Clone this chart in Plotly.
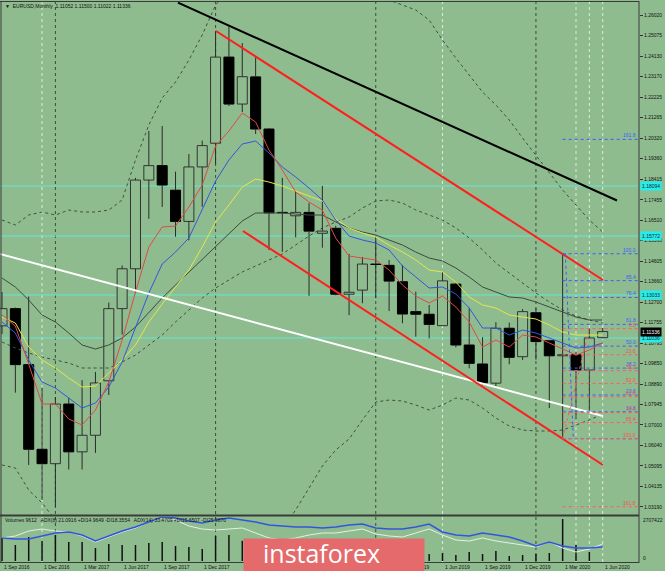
import plotly.graph_objects as go

W, H = 665, 571
BG = "rgb(143,188,143)"

# ---------------- data ----------------
months = ["Sep 2016", "Oct 2016", "Nov 2016", "Dec 2016", "Jan 2017", "Feb 2017", "Mar 2017", "Apr 2017",
          "May 2017", "Jun 2017", "Jul 2017", "Aug 2017", "Sep 2017", "Oct 2017", "Nov 2017", "Dec 2017",
          "Jan 2018", "Feb 2018", "Mar 2018", "Apr 2018", "May 2018", "Jun 2018", "Jul 2018", "Aug 2018",
          "Sep 2018", "Oct 2018", "Nov 2018", "Dec 2018", "Jan 2019", "Feb 2019", "Mar 2019", "Apr 2019",
          "May 2019", "Jun 2019", "Jul 2019", "Aug 2019", "Sep 2019", "Oct 2019", "Nov 2019", "Dec 2019",
          "Jan 2020", "Feb 2020", "Mar 2020", "Apr 2020", "May 2020", "Jun 2020"]

opens = [1.1160, 1.1240, 1.0980, 1.0587, 1.0520, 1.0797, 1.0575, 1.0652, 1.0905, 1.1240, 1.1425, 1.1837,
         1.1904, 1.1790, 1.1645, 1.1898, 1.2008, 1.2408, 1.2190, 1.2316, 1.2074, 1.1687, 1.1671, 1.1687,
         1.1590, 1.1613, 1.1307, 1.1326, 1.1447, 1.1441, 1.1365, 1.1226, 1.1214, 1.1161, 1.1354, 1.1071,
         1.0983, 1.0894, 1.1149, 1.1017, 1.1221, 1.1091, 1.1021, 1.1026, 1.0955, 1.11052]
highs = [1.1317, 1.1245, 1.1296, 1.0873, 1.0829, 1.0826, 1.0908, 1.0946, 1.1268, 1.1440, 1.1847, 1.2065,
         1.2088, 1.1876, 1.1958, 1.2020, 1.2530, 1.2549, 1.2473, 1.2410, 1.2079, 1.1847, 1.1783, 1.1730,
         1.1810, 1.1625, 1.1494, 1.1480, 1.1570, 1.1466, 1.1443, 1.1319, 1.1257, 1.1411, 1.1360, 1.1244,
         1.1107, 1.1177, 1.1175, 1.1238, 1.1241, 1.1095, 1.1495, 1.1040, 1.1147, 1.11500]
lows = [1.1122, 1.0850, 1.0514, 1.0352, 1.0320, 1.0493, 1.0493, 1.0570, 1.0839, 1.1120, 1.1312, 1.1657,
        1.1712, 1.1574, 1.1557, 1.1713, 1.1912, 1.2181, 1.2153, 1.2051, 1.1512, 1.1504, 1.1571, 1.1300,
        1.1523, 1.1302, 1.1210, 1.1265, 1.1289, 1.1229, 1.1172, 1.1110, 1.1102, 1.1160, 1.1060, 1.0963,
        1.0885, 1.0878, 1.0982, 1.1002, 1.1003, 1.0778, 1.0636, 1.0727, 1.0766, 1.11022]
closes = [1.1240, 1.0980, 1.0587, 1.0520, 1.0797, 1.0575, 1.0652, 1.0895, 1.1240, 1.1425, 1.1837, 1.1904,
          1.1814, 1.1645, 1.1898, 1.1997, 1.2408, 1.2190, 1.2317, 1.2074, 1.1685, 1.1685, 1.1687, 1.1600,
          1.1600, 1.1307, 1.1316, 1.1447, 1.1445, 1.1368, 1.1215, 1.1214, 1.1167, 1.1369, 1.1071, 1.0986,
          1.0896, 1.1149, 1.1014, 1.1226, 1.1087, 1.1021, 1.1026, 1.0955, 1.1104, 1.11336]

volumes = [1482000, 1031000, 1547000, 1289000, 1676000, 1225000, 1225000, 838000, 1096000, 1031000,
           1031000, 1160000, 1225000, 967000, 902000, 774000, 1612000, 1676000, 1300000, 1100000,
           1250000, 900000, 800000, 900000, 750000, 850000, 700000, 650000, 700000, 550000, 600000,
           500000, 451000, 516000, 387000, 580000, 451000, 645000, 322000, 387000, 451000, 516000,
           2707422, 1031000, 580000, 9612]

ma_red = [1.12104, 1.11593, 1.09829, 1.07972, 1.07972, 1.07275, 1.06996, 1.07693, 1.08993, 1.10943,
          1.13172, 1.15261, 1.16190, 1.16236, 1.17119, 1.18140, 1.19951, 1.20647, 1.21483, 1.21065,
          1.19765, 1.18837, 1.17815, 1.17351, 1.16979, 1.15679, 1.14843, 1.14751, 1.14658, 1.14193,
          1.13497, 1.12986, 1.12661, 1.12986, 1.12475, 1.11779, 1.10618, 1.10943, 1.10618, 1.11175,
          1.11082, 1.10804, 1.10525, 1.10247, 1.10479, 1.10804]
ma_blue = [1.11779, 1.11268, 1.10015, 1.08993, 1.08714, 1.08250, 1.07786, 1.08018, 1.08761, 1.09922,
           1.11547, 1.13125, 1.14472, 1.15029, 1.15679, 1.17026, 1.18326, 1.19301, 1.20044, 1.20183,
           1.19626, 1.18976, 1.18512, 1.18001, 1.17444, 1.16515, 1.15772, 1.15586, 1.15447, 1.15122,
           1.14379, 1.13868, 1.13358, 1.13404, 1.13079, 1.12429, 1.11500, 1.11500, 1.11175, 1.11407,
           1.11268, 1.11036, 1.10804, 1.10572, 1.10618, 1.10804]
ma_yellow = [1.12011, 1.11733, 1.10618, 1.10015, 1.09643, 1.09179, 1.08761, 1.08807, 1.09411, 1.10015,
             1.10711, 1.11779, 1.12615, 1.13404, 1.14193, 1.15261, 1.16422, 1.17211, 1.18047, 1.18419,
             1.18279, 1.18094, 1.17862, 1.17629, 1.17397, 1.16561, 1.16144, 1.15911, 1.15726, 1.15354,
             1.15029, 1.14658, 1.14193, 1.14101, 1.13636, 1.12940, 1.12568, 1.12429, 1.12104, 1.12011,
             1.11918, 1.11640, 1.11315, 1.11175, 1.11175, 1.11175]
ma_gray = [1.13822, 1.13404, 1.12800, 1.12104, 1.11779, 1.11268, 1.10711, 1.10525, 1.10711, 1.11036,
           1.11547, 1.12243, 1.12893, 1.13497, 1.14101, 1.14658, 1.15261, 1.15865, 1.16469, 1.16840,
           1.16840, 1.16840, 1.16794, 1.16747, 1.16747, 1.16422, 1.16144, 1.15958, 1.15819, 1.15586,
           1.15354, 1.15029, 1.14751, 1.14611, 1.14286, 1.13868, 1.13404, 1.13172, 1.12940, 1.12893,
           1.12708, 1.12475, 1.12243, 1.12011, 1.11872, 1.11872]
bb_mid = [1.10850, 1.10572, 1.10340, 1.10154, 1.10015, 1.09875, 1.09643, 1.09643, 1.09643, 1.09922,
          1.10247, 1.10711, 1.11175, 1.11779, 1.12336, 1.12893, 1.13358, 1.13729, 1.14101, 1.14379,
          1.14658, 1.14936, 1.15354, 1.15772, 1.16144, 1.16422, 1.16654, 1.17072, 1.17397, 1.17444,
          1.17304, 1.16979, 1.16747, 1.16515, 1.16144, 1.15679, 1.15122, 1.14518, 1.14054, 1.13590,
          1.13125, 1.12708, 1.12336, 1.12058, 1.11872, 1.11733]
bb_up = [1.16515, 1.16283, 1.16747, 1.16886, 1.16747, 1.16979, 1.16886, 1.16886, 1.16979, 1.17444,
         1.19301, 1.20926, 1.22180, 1.22923, 1.23944, 1.25105, 1.26498, 1.27194, 1.27659, 1.27891,
         1.27891, 1.27891, 1.27659, 1.27426, 1.27194, 1.26962, 1.26962, 1.26730, 1.26730, 1.26730,
         1.26498, 1.26266, 1.25801, 1.24873, 1.24037, 1.23248, 1.22458, 1.21855, 1.21158, 1.20322,
         1.19533, 1.18744, 1.17908, 1.17211, 1.16515, 1.15958]
bb_low = [1.05139, 1.05000, 1.03978, 1.03375, 1.02585, 1.02121, 1.01657, 1.01425, 1.01425, 1.01657,
          1.01425, 1.01192, 1.00960, 1.00821, 1.00728, 1.00496, 1.00217, 1.00357, 1.00542, 1.00960,
          1.01425, 1.02214, 1.03050, 1.04071, 1.05093, 1.05836, 1.06346, 1.07229, 1.08064, 1.08157,
          1.08111, 1.07925, 1.07693, 1.07925, 1.08250, 1.08157, 1.07786, 1.07321, 1.06950, 1.06764,
          1.06718, 1.06718, 1.06764, 1.06996, 1.07229, 1.07507]

adx_blue = [48, 46, 46, 52, 58, 60, 54, 42, 52, 62, 70, 80, 90, 88, 82, 78, 84, 88, 84, 80,
            74, 72, 70, 70, 68, 70, 74, 76, 68, 66, 66, 70, 76, 60, 54, 52, 58, 54, 50, 42,
            32, 40, 32, 28, 28, 30]
adx_white = [48, 52, 62, 66, 62, 60, 52, 40, 50, 60, 68, 80, 88, 84, 72, 66, 64, 66, 68, 58,
             48, 44, 48, 54, 58, 58, 62, 66, 56, 52, 50, 58, 66, 54, 44, 42, 48, 42, 38, 34,
             30, 40, 28, 20, 26, 36]

price_ticks = [1.26020, 1.25075, 1.24130, 1.23170, 1.22225, 1.21265, 1.20320, 1.19360, 1.18415,
               1.17455, 1.16510, 1.15560, 1.14605, 1.13660, 1.12700, 1.11755, 1.10795, 1.09850,
               1.08890, 1.07945, 1.07000, 1.06040, 1.05095, 1.04135, 1.03190]

# trend lines: (bar index, price) pairs
black_line = ([13.18, 46.07], [1.26609, 1.17420])
red_upper = ([16.03, 45.02], [1.25291, 1.13729])
red_lower = ([18.05, 45.02], [1.16004, 1.05139])
white_line = ([-0.15, 45.02], [1.14936, 1.07414])

cyan_levels = [1.18094, 1.15772, 1.13033, 1.11036]

fib_blue_labels = ["0.0", "14.6", "23.6", "38.2", "50.0", "61.8", "76.4", "85.4", "100.0", "161.8"]
fib_blue_prices = [1.0636, 1.0761, 1.0839, 1.0964, 1.1066, 1.1167, 1.1292, 1.1370, 1.1495, 1.2026]
fib_red_labels = ["0.0", "23.6", "38.2", "50.0", "61.8", "76.4", "85.4", "100.0", "161.8"]
fib_red_prices = [1.1147, 1.1026, 1.0952, 1.0892, 1.0831, 1.0757, 1.0711, 1.0636, 1.0320]

dark_separators = [4, 16, 28, 40]
light_separators = [3, 33, 43, 44, 45]
logo_text = "instaforex"

# ---------------- layout helpers ----------------
X0, X1 = -0.15, 47.72
YTOP, YBOT = 1.26638, 1.02818
def fy(py):
    return 1 - py / H

PLOT_R = 639 / W
FONT = "Liberation Sans"

fig = go.Figure()
n = len(opens)
idx = list(range(n))

# BB dotted
for arr in (bb_up, bb_mid, bb_low):
    fig.add_trace(go.Scatter(x=idx, y=arr, mode="lines", line=dict(color="#3f4f3f", width=1, dash="dot"),
                             hoverinfo="skip"))

# candles: wicks
wx, wy = [], []
for i in idx:
    top = max(opens[i], closes[i]); bot = min(opens[i], closes[i])
    wx += [i, i, None, i, i, None]
    wy += [highs[i], top, None, bot, lows[i], None]
fig.add_trace(go.Scatter(x=wx, y=wy, mode="lines", line=dict(color="#2a2a2a", width=1), hoverinfo="skip"))

bases = [min(o, c) for o, c in zip(opens, closes)]
heights = [max(abs(c - o), 0.00008) for o, c in zip(opens, closes)]
fills = [BG if c > o else "#000000" for o, c in zip(opens, closes)]
lines_c = ["#333333" if c > o else "#000000" for o, c in zip(opens, closes)]
fig.add_trace(go.Bar(x=idx, y=heights, base=bases, width=0.75,
                     marker=dict(color=fills, line=dict(color=lines_c, width=1)), hoverinfo="skip"))

# MAs
fig.add_trace(go.Scatter(x=idx, y=ma_gray, mode="lines", line=dict(color="#3c4a3c", width=1)))
fig.add_trace(go.Scatter(x=idx, y=ma_yellow, mode="lines", line=dict(color="#e6e64a", width=1)))
fig.add_trace(go.Scatter(x=idx, y=ma_blue, mode="lines", line=dict(color="#3355dd", width=1)))
fig.add_trace(go.Scatter(x=idx, y=ma_red, mode="lines", line=dict(color="#e04848", width=1)))

# trend lines
fig.add_trace(go.Scatter(x=white_line[0], y=white_line[1], mode="lines", line=dict(color="#ffffff", width=2)))
fig.add_trace(go.Scatter(x=red_upper[0], y=red_upper[1], mode="lines", line=dict(color="#ff1e1e", width=2)))
fig.add_trace(go.Scatter(x=red_lower[0], y=red_lower[1], mode="lines", line=dict(color="#ff1e1e", width=2)))
fig.add_trace(go.Scatter(x=black_line[0], y=black_line[1], mode="lines", line=dict(color="#000000", width=2)))

# fib levels
for p in fib_blue_prices:
    fig.add_trace(go.Scatter(x=[42, X1], y=[p, p], mode="lines", line=dict(color="#3a5cff", width=1, dash="dot")))
for p in fib_red_prices:
    fig.add_trace(go.Scatter(x=[42, X1], y=[p, p], mode="lines", line=dict(color="#ff5a5a", width=1, dash="dot")))
fig.add_trace(go.Scatter(x=[42, 44], y=[fib_red_prices[-2], fib_red_prices[0]], mode="lines",
                         line=dict(color="#ff5a5a", width=1, dash="dot")))
fig.add_trace(go.Scatter(x=[42.2, 42.8], y=[fib_blue_prices[-2], fib_blue_prices[0]], mode="lines",
                         line=dict(color="#3a5cff", width=1, dash="dot")))

# volume panel
vx, vy = [], []
for i in idx:
    vx += [i, i, None]; vy += [0, volumes[i], None]
fig.add_trace(go.Scatter(x=vx, y=vy, mode="lines", line=dict(color="#111111", width=1.5), xaxis="x2", yaxis="y2"))
fig.add_trace(go.Scatter(x=idx, y=adx_white, mode="lines", line=dict(color="#e4f0e4", width=1), xaxis="x2", yaxis="y3"))
fig.add_trace(go.Scatter(x=idx, y=adx_blue, mode="lines", line=dict(color="#3355dd", width=1.5), xaxis="x2", yaxis="y3"))

shapes = []
for s in dark_separators:
    shapes.append(dict(type="line", xref="x", yref="paper", x0=s, x1=s, y0=fy(562), y1=fy(2),
                       line=dict(color="#3c4c3c", width=1, dash="dot"), layer="below"))
for s in light_separators:
    shapes.append(dict(type="line", xref="x", yref="paper", x0=s, x1=s, y0=fy(562), y1=fy(2),
                       line=dict(color="#dfeadf", width=1, dash="dot"), layer="below"))
for p in cyan_levels:
    shapes.append(dict(type="line", xref="paper", yref="y", x0=0, x1=PLOT_R, y0=p, y1=p,
                       line=dict(color="#66e6d2", width=1), layer="below"))
fc = "#3a3a3a"
shapes += [
    dict(type="line", xref="paper", yref="paper", x0=PLOT_R, x1=PLOT_R, y0=fy(563), y1=fy(1), line=dict(color=fc, width=1)),
    dict(type="line", xref="paper", yref="paper", x0=0, x1=PLOT_R, y0=fy(515.5), y1=fy(515.5), line=dict(color=fc, width=2)),
    dict(type="line", xref="paper", yref="paper", x0=0, x1=PLOT_R, y0=fy(1.5), y1=fy(1.5), line=dict(color=fc, width=1)),
    dict(type="line", xref="paper", yref="paper", x0=1 / W, x1=1 / W, y0=fy(563), y1=fy(1), line=dict(color=fc, width=1)),
    dict(type="line", xref="paper", yref="paper", x0=0, x1=PLOT_R, y0=fy(562.5), y1=fy(562.5), line=dict(color=fc, width=1)),
]

ann = []
ann.append(dict(text="▼  EURUSD,Monthly  1.11052 1.11500 1.11022 1.11336", x=3 / W, y=fy(6), xref="paper", yref="paper",
                xanchor="left", yanchor="middle", showarrow=False, font=dict(size=5, color="#111111", family=FONT)))
ann.append(dict(text="Volumes 9612   ADX(8) 21.0916 +DI14.9649 -DI18.3554   ADX(14) 33.4709 +DI15.6507 -DI25.9870",
                x=3 / W, y=fy(520), xref="paper", yref="paper", xanchor="left", yanchor="middle", showarrow=False,
                font=dict(size=5, color="#111111", family=FONT)))
ann.append(dict(text="2707422", x=641 / W, y=fy(520), xref="paper", yref="paper", xanchor="left", yanchor="middle",
                showarrow=False, font=dict(size=5, color="#111111", family=FONT)))
ann.append(dict(text="0", x=641 / W, y=fy(558), xref="paper", yref="paper", xanchor="left", yanchor="middle",
                showarrow=False, font=dict(size=5, color="#111111", family=FONT)))
for i in range(0, n, 3):
    if 18 <= i <= 27:
        continue  # hidden under the logo in the reference
    ann.append(dict(text="1 " + months[i], x=i, y=fy(566.5), xref="x", yref="paper", xanchor="left", yanchor="middle",
                    showarrow=False, font=dict(size=5, color="#111111", family=FONT)))
for lab, p in zip(fib_blue_labels, fib_blue_prices):
    if lab == "0.0":
        continue
    ann.append(dict(text=lab, x=638 / W, y=p, xref="paper", yref="y", xanchor="right", yanchor="bottom", yshift=-1,
                    showarrow=False, font=dict(size=5, color="#3a5cff", family=FONT)))
for lab, p in zip(fib_red_labels, fib_red_prices):
    ann.append(dict(text=lab, x=638 / W, y=p, xref="paper", yref="y", xanchor="right", yanchor="bottom", yshift=-1,
                    showarrow=False, font=dict(size=5, color="#ff4a4a", family=FONT)))
for p in cyan_levels:
    ann.append(dict(text=f"{p:.5f}", x=640 / W, y=p, xref="paper", yref="y", xanchor="left", yanchor="middle",
                    showarrow=False, bgcolor="#22eeee", borderpad=1, font=dict(size=5, color="#222222", family=FONT)))
ann.append(dict(text=f"{closes[-1]:.5f}", x=640 / W, y=closes[-1], xref="paper", yref="y", xanchor="left",
                yanchor="middle", showarrow=False, bgcolor="#000000", borderpad=1,
                font=dict(size=5, color="#ffffff", family=FONT)))
# logo box + text
ann.append(dict(text=" ", x=243 / W, y=fy(538), xref="paper", yref="paper", xanchor="left", yanchor="top",
                width=180, height=34, showarrow=False, bgcolor="#e46a6c", borderpad=0))
ann.append(dict(text=logo_text, x=261 / W, y=fy(553), xref="paper", yref="paper", xanchor="left", yanchor="middle",
                showarrow=False, font=dict(size=25, color="#ffffff", family="Open Sans")))

ax_common = dict(showgrid=False, zeroline=False, automargin=False, fixedrange=True)
fig.update_layout(
    template=None,
    width=W, height=H, margin=dict(l=0, r=0, t=0, b=0, pad=0),
    paper_bgcolor=BG, plot_bgcolor=BG, showlegend=False,
    xaxis=dict(domain=[0, PLOT_R], range=[X0, X1], showticklabels=False, showline=False, ticks="", **ax_common),
    xaxis2=dict(domain=[0, PLOT_R], range=[X0, X1], showticklabels=False, ticks="", anchor="y2", **ax_common),
    yaxis=dict(domain=[fy(515), fy(2)], range=[YBOT, YTOP], side="right", anchor="x",
               tickvals=price_ticks, ticktext=[f"{v:.5f}" for v in price_ticks], ticks="outside", ticklen=3,
               tickcolor="#333333", tickfont=dict(size=5, color="#111111", family=FONT), showline=False, **ax_common),
    yaxis2=dict(domain=[fy(562), fy(517)], range=[-64460, 2836240], showticklabels=False, ticks="", anchor="x2",
                **ax_common),
    yaxis3=dict(domain=[fy(562), fy(517)], range=[0, 90], overlaying="y2", showticklabels=False, ticks="",
                anchor="x2", **ax_common),
    shapes=shapes, annotations=ann,
)

fig.write_html("out.html", config={"displayModeBar": False},
               post_script="document.body.style.margin='0px';document.body.style.overflow='hidden';")
